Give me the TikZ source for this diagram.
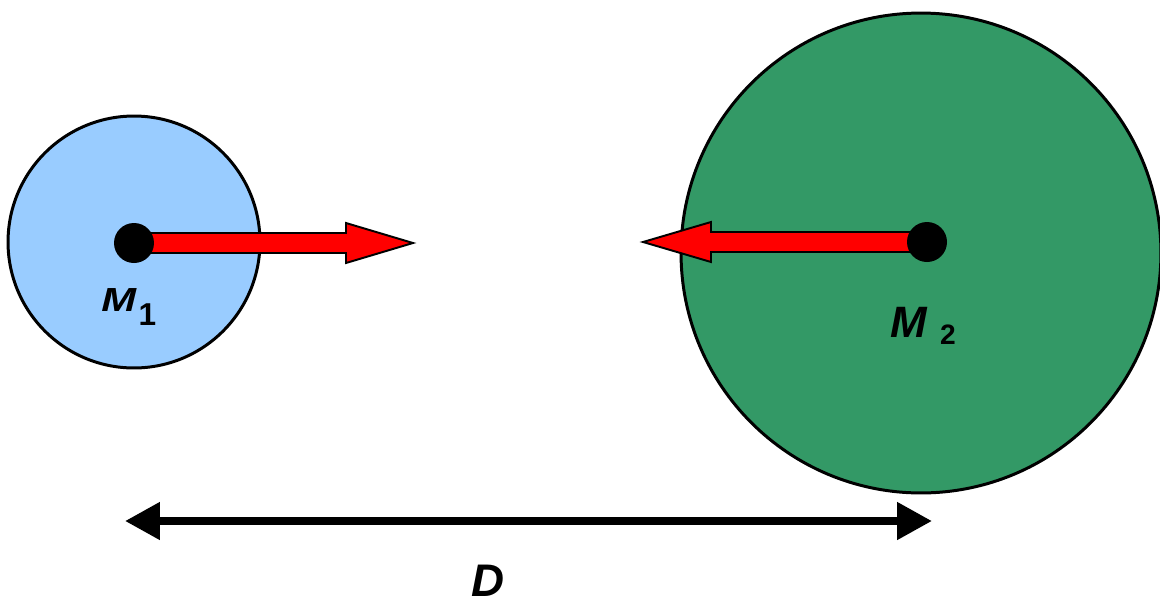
\documentclass[tikz,border=0pt]{standalone}
\usepackage{fontspec}
\setmainfont{Liberation Sans}
\usetikzlibrary{arrows.meta,calc}
\definecolor{massblue}{HTML}{99CCFF}
\definecolor{massgreen}{HTML}{339966}

\begin{document}
\begin{tikzpicture}[
        x=0.02cm, y=-0.02cm,
        mass/.style={circle, draw=black, line width=1.7pt, inner sep=0pt},
        mass-one/.style={mass, fill=massblue, minimum size=5.04cm},
        mass-two/.style={mass, fill=massgreen, minimum size=9.6cm},
        centre-dot/.style={circle, fill=black, minimum size=0.8cm, inner sep=0pt},
        pull/.style={draw=black, fill=red, line width=1.1pt, line join=miter},
        span-arrow/.style={{Triangle[length=0.7cm, width=0.72cm]}-{Triangle[length=0.7cm, width=0.72cm]}, line width=4.5pt},
        mass-label/.style={anchor=base west, font=\bfseries, inner sep=0pt},
    ]
        \useasboundingbox (0,0) rectangle (1160,596);

        % Masses
        \node[mass-one] (M1) at (134,242) {};
        \node[mass-two] (M2) at (921,253) {};

        % Centres
        \coordinate (c1) at (134,243);
        \coordinate (c2) at (927,242);

        % Forces
        \draw[pull] ($(c1)+(0,-10)$) -- ++(212,0) -- ++(0,-10) -- ++(67,20)
            -- ++(-67,20) -- ++(0,-10) -- ++(-212,0) -- cycle;
        \draw[pull] ($(c2)+(0,-10)$) -- ++(-216,0) -- ++(0,-10) -- ++(-68,20)
            -- ++(68,20) -- ++(0,-10) -- ++(216,0) -- cycle;

        \node[centre-dot] (d1) at (c1) {};
        \node[centre-dot] (d2) at (c2) {};

        % Labels
        \node[mass-label] (l1) at (101,311)
            {\scalebox{1.25}[1]{\fontsize{19}{22}\selectfont\textit{M}}\hspace{1pt}\raisebox{-8.5pt}{\fontsize{18}{20}\selectfont 1}};
        \node[mass-label] (l2) at (890,337)
            {\fontsize{25}{30}\selectfont\textit{M}\hspace{7pt}\raisebox{-4.5pt}{\fontsize{16}{20}\selectfont 2}};

        % Distance
        \coordinate (dl) at (125,521);
        \coordinate (dr) at (932,521);
        \draw[span-arrow] (dl) -- (dr);
        \node[mass-label] (dist) at (471,596) {\fontsize{26}{30}\selectfont\textit{D}};
    \end{tikzpicture}
\end{document}
